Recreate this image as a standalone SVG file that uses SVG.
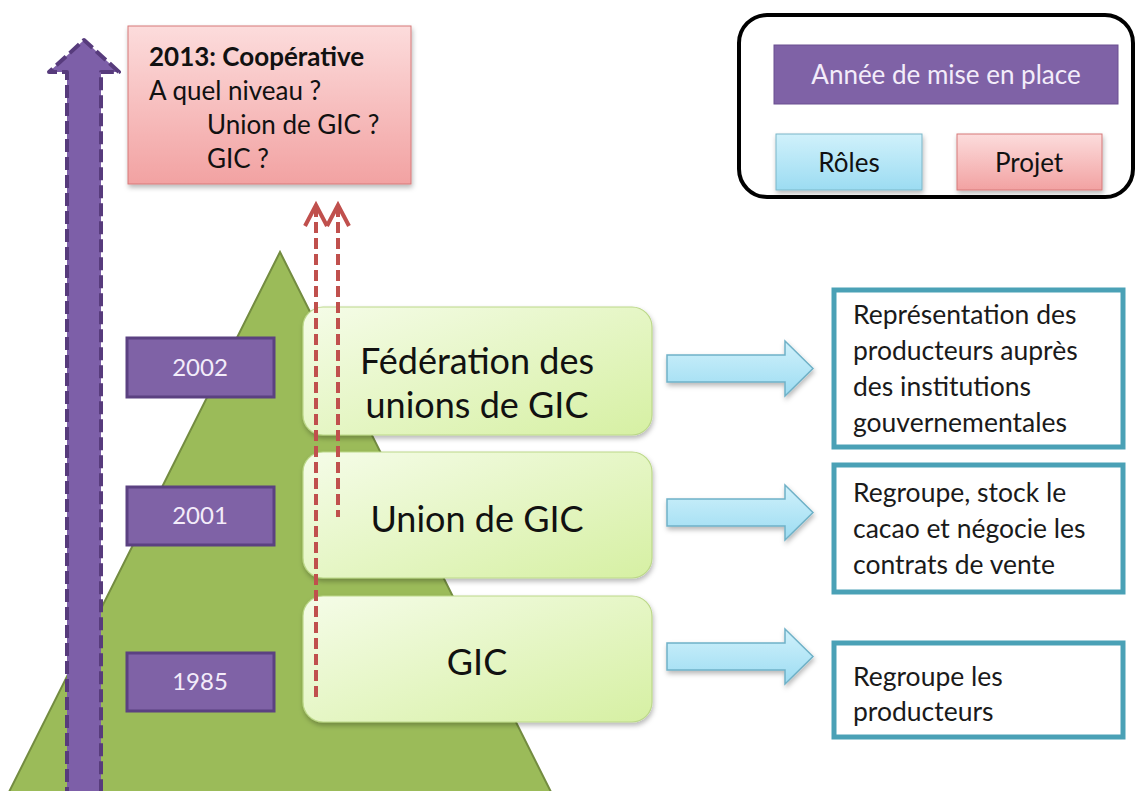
<svg xmlns="http://www.w3.org/2000/svg" width="1141" height="791" viewBox="0 0 1141 791">
  <style>
    text { font-family: Lato, "Open Sans", "Liberation Sans", sans-serif; }
    .date rect { fill: #7f62a6; stroke: #5b4181; stroke-width: 3; }
    .date text { fill: #f3ecfa; font-size: 24px; text-anchor: middle; }
    .level rect { fill: url(#gLevel); stroke: #bcd88a; stroke-width: 1.2; filter: url(#shadow); }
    .level text { fill: #111; font-size: 36px; text-anchor: middle; }
    .role rect { fill: #ffffff; stroke: #4aa1b6; stroke-width: 5; }
    .role text { fill: #1a1a1a; font-size: 26.5px; }
    .projet text { fill: #111; font-size: 26px; }
    .legend text { font-size: 26px; text-anchor: middle; }
    .blue { fill: url(#gBlue); stroke: #6fb1c7; stroke-width: 1.5; filter: url(#shadow); }
    .red-dash { fill: none; stroke: #c0504d; stroke-width: 4; stroke-dasharray: 11 5; }
    .red-head { fill: none; stroke: #c0504d; stroke-width: 4; stroke-linejoin: miter; }
  </style>
  <defs>
    <linearGradient id="gLevel" x1="0" y1="0" x2="1" y2="1">
      <stop offset="0" stop-color="#f5fce8"/>
      <stop offset="1" stop-color="#d6f0a3"/>
    </linearGradient>
    <linearGradient id="gPink" x1="0" y1="0" x2="0" y2="1">
      <stop offset="0" stop-color="#fcdcdc"/>
      <stop offset="1" stop-color="#f2a2a2"/>
    </linearGradient>
    <linearGradient id="gBlue" x1="0" y1="0" x2="0" y2="1">
      <stop offset="0" stop-color="#d0f1fb"/>
      <stop offset="1" stop-color="#9cdcf2"/>
    </linearGradient>
    <filter id="shadow" x="-10%" y="-10%" width="125%" height="130%">
      <feDropShadow dx="1" dy="3" stdDeviation="2.5" flood-color="#000" flood-opacity="0.28"/>
    </filter>
  </defs>

  <rect width="1141" height="791" fill="#ffffff"/>

  <!-- pyramid background -->
  <polygon id="pyramid" points="280,252 551,792 9,792" fill="#9bbb59" stroke="#738c40" stroke-width="2"/>

  <!-- timeline year labels -->
  <g id="year-2002" class="date">
    <rect x="127" y="338" width="147" height="59"/>
    <text x="200" y="376">2002</text>
  </g>
  <g id="year-2001" class="date">
    <rect x="127" y="487" width="147" height="58"/>
    <text x="200" y="524">2001</text>
  </g>
  <g id="year-1985" class="date">
    <rect x="127" y="653" width="147" height="58"/>
    <text x="200" y="690">1985</text>
  </g>

  <!-- organisational levels -->
  <g id="level-federation" class="level">
    <rect x="303" y="307" width="349" height="128" rx="20"/>
    <text x="477" y="374">Fédération des</text>
    <text x="477" y="418">unions de GIC</text>
  </g>
  <g id="level-union" class="level">
    <rect x="303" y="452" width="349" height="126" rx="20"/>
    <text x="477" y="532">Union de GIC</text>
  </g>
  <g id="level-gic" class="level">
    <rect x="303" y="596" width="349" height="126" rx="20"/>
    <text x="477" y="675">GIC</text>
  </g>

  <!-- 2013 project box -->
  <g id="projet-2013" class="projet">
    <rect x="128" y="26" width="283" height="158" fill="url(#gPink)" stroke="#d67878" stroke-width="1" filter="url(#shadow)"/>
    <text x="149" y="66" font-weight="bold">2013: Coopérative</text>
    <text x="149" y="100">A quel niveau ?</text>
    <text x="207" y="134">Union de GIC ?</text>
    <text x="207" y="168">GIC ?</text>
  </g>

  <!-- legend -->
  <g id="legend" class="legend">
    <rect x="739" y="15" width="394" height="182" rx="28" fill="#ffffff" stroke="#000" stroke-width="4"/>
    <rect x="774" y="45" width="344" height="59" fill="#7f62a6" stroke="#6a4f90" stroke-width="1"/>
    <text x="946" y="84" fill="#f3ecfa">Année de mise en place</text>
    <rect x="776" y="134" width="146" height="56" fill="url(#gBlue)" stroke="#7ab6c8" stroke-width="1" filter="url(#shadow)"/>
    <text x="849" y="172" fill="#111">Rôles</text>
    <rect x="957" y="134" width="145" height="56" fill="url(#gPink)" stroke="#d67878" stroke-width="1" filter="url(#shadow)"/>
    <text x="1029" y="172" fill="#111">Projet</text>
  </g>

  <!-- role descriptions -->
  <g id="role-federation" class="role">
    <rect x="834" y="290" width="289" height="157"/>
    <text x="853" y="324">Représentation des</text>
    <text x="853" y="360">producteurs auprès</text>
    <text x="853" y="396">des institutions</text>
    <text x="853" y="432">gouvernementales</text>
  </g>
  <g id="role-union" class="role">
    <rect x="834" y="465" width="289" height="127"/>
    <text x="853" y="502">Regroupe, stock le</text>
    <text x="853" y="538">cacao et négocie les</text>
    <text x="853" y="574">contrats de vente</text>
  </g>
  <g id="role-gic" class="role">
    <rect x="834" y="643" width="289" height="94"/>
    <text x="853" y="686">Regroupe les</text>
    <text x="853" y="721">producteurs</text>
  </g>

  <!-- connectors -->
  <g id="connectors">
    <!-- timeline arrow -->
    <polygon points="67,800 67,72 49,72 84,40 119,72 101,72 101,800" fill="#7d5fa8" stroke="#573b7c" stroke-width="4" stroke-dasharray="13 5" stroke-linejoin="round"/>
    <!-- projected evolution -->
    <line class="red-dash" x1="316" y1="206" x2="316" y2="702"/>
    <polyline class="red-head" points="305,226 316,205 327,226"/>
    <line class="red-dash" x1="338" y1="206" x2="338" y2="517"/>
    <polyline class="red-head" points="327,226 338,205 349,226"/>
    <!-- level to role arrows -->
    <polygon class="blue" points="667,355 785,355 785,341 813,368.5 785,396 785,382 667,382"/>
    <polygon class="blue" points="667,499 785,499 785,485 813,512.5 785,540 785,526 667,526"/>
    <polygon class="blue" points="667,643 785,643 785,629 813,656.5 785,684 785,670 667,670"/>
  </g>
</svg>
